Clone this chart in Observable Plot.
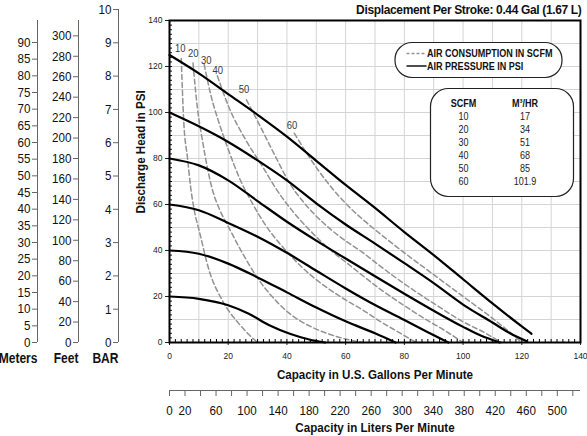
<!DOCTYPE html>
<html><head><meta charset="utf-8">
<script src="https://cdn.jsdelivr.net/npm/d3@7"></script>
<script src="https://cdn.jsdelivr.net/npm/@observablehq/plot@0.6"></script>
<style>
html,body{margin:0;padding:0;background:#fff;}
#chart{position:relative;width:587px;height:436px;overflow:hidden;background:#fff;}
#chart svg{position:absolute;left:0;top:0;max-width:none;}
</style></head><body><div id="chart"></div>
<script>
// ---------- data ----------
const chartTitle = "Displacement Per Stroke: 0.44 Gal (1.67 L)";
const xTitle = "Capacity in U.S. Gallons Per Minute";
const yTitle = "Discharge Head in PSI";
const litersTitle = "Capacity in Liters Per Minute";
const legendLabels = ["AIR CONSUMPTION IN SCFM", "AIR PRESSURE IN PSI"];

// air pressure curves (solid), [gpm, psi]
const pressureLevels = [125, 100, 80, 60, 40, 20];
const psi125 = [[0,125],[10,117],[20,108],[30,99],[40,89.5],[50,79],[60,68.5],[70,58.5],[80,48],[90,38],[100,27.5],[110,17],[120,7],[123.3,3.8]];
const psi100 = [[0,100],[10,94],[20,87.2],[30,79.2],[40,70.5],[50,60.5],[60,51.3],[70,43],[80,34.5],[90,25.8],[100,16.5],[110,8.7],[116,4],[121.7,0.5]];
const psi80  = [[0,80],[10,77],[20,70.5],[30,61.5],[40,52.5],[50,44.3],[60,36.5],[70,28.8],[80,21.2],[90,13.8],[100,6.8],[106,3],[112.5,0]];
const psi60  = [[0,60],[10,57.5],[20,52],[30,46],[40,39],[50,31.2],[60,23.5],[70,16.3],[80,9.8],[88,4.5],[95,0]];
const psi40  = [[0,40],[10,38.6],[20,34.3],[30,28.3],[40,21.8],[50,15.2],[60,9.2],[70,4],[77,0]];
const psi20  = [[0,20],[10,19],[20,16.2],[27,12.5],[34,7.5],[41,3.8],[47.6,1.3],[53,0]];

// air consumption curves (dashed), [gpm, psi]
const scfmLevels = [10, 20, 30, 40, 50, 60];
const scfm10 = [[4,123.5],[4.9,95],[6.1,80.6],[7.2,67.5],[8.5,57],[10.1,48.7],[13.5,31.3],[18,18.3],[23.7,8.1],[27,3.5],[30,0]];
const scfm20 = [[8,121.5],[9.5,102],[11.2,88],[12.9,76],[14.6,66.5],[17,58],[20,50.5],[25,38.5],[30,28],[36,18.5],[42,11.5],[48,7],[54,3.8],[60,1.5],[66,0]];
const scfm30 = [[11.8,121],[14,108],[17,95],[20,84],[24,71],[28,61],[33,50.5],[40,39.5],[47,30.5],[54,23.5],[60,18.5],[66,14],[72,9],[78,4.5],[84,0]];
const scfm40 = [[16.3,116],[20,103],[26,88],[31.7,76.5],[36.2,67],[42,57],[48,48.5],[55,40],[60,35],[65.4,29.5],[72,23],[80,16],[88,9.5],[94,5],[100,0]];
const scfm50 = [[26.2,105.5],[30.5,95],[36.2,80.6],[40.8,69.5],[46,60.5],[52,52.5],[58,46],[65.4,39.5],[72,33],[80,25.5],[90,17],[100,9],[107,4.5],[113,0]];
const scfm60 = [[42.5,91],[47.6,80.6],[53.3,70.4],[56.1,66],[60,60.5],[65.4,54],[72,47],[80,39],[90,29.5],[100,20],[108,12.5],[114,6.5],[120,0]];
const scfmLabelX = [3.7, 8.1, 12.5, 16.4, 25.4, 41.7];
const scfmLabelY = [128, 125.7, 122.8, 118.4, 110, 94.2];

// conversion table
const tableHeader = ["SCFM", "M³/HR"];
const tableScfm = ["10", "20", "30", "40", "50", "60"];
const tableM3hr = ["17", "34", "51", "68", "85", "101.9"];

// ticks
const gpmTicks = [0, 20, 40, 60, 80, 100, 120, 140];
const psiTicks = [0, 20, 40, 60, 80, 100, 120, 140];
const gridTicks = [10, 20, 30, 40, 50, 60, 70, 80, 90, 100, 110, 120, 130];
const minorTicks = d3.range(0, 141, 2);
const litersLabels = [0, 20, 60, 100, 140, 180, 220, 260, 300, 340, 380, 420, 460, 500];
const litersTicks = d3.range(0, 521, 20);
const meterTicks = d3.range(0, 91, 5);
const feetTicks = d3.range(0, 301, 20);
const barTicks = d3.range(0, 11, 1);
const meterMax = 96.6, feetMax = 315, barMax = 10, gpmMax = 140, psiMax = 140;
const litersPerGallon = 3.785;

// ---------- build rows ----------
const pressureSeries = [psi125, psi100, psi80, psi60, psi40, psi20];
const scfmSeries = [scfm10, scfm20, scfm30, scfm40, scfm50, scfm60];
const pressureRows = pressureSeries.flatMap((pts, i) => pts.map(([x, y]) => ({x, y, psi: pressureLevels[i]})));
const scfmRows = scfmSeries.flatMap((pts, i) => pts.map(([x, y]) => ({x, y, scfm: scfmLevels[i]})));

// ---------- layout ----------
const W = 587, H = 436, ML = 169, MR = 7, MT = 20, MB = 94;
const NARROW = "'Liberation Sans Narrow','Liberation Sans',Arial,sans-serif";
const REG = "'Liberation Sans',Arial,sans-serif";
const root = document.getElementById("chart");

const main = Plot.plot({
  width: W, height: H,
  marginLeft: ML, marginRight: MR, marginTop: MT, marginBottom: MB,
  style: {fontFamily: REG, fontSize: "8.5px", color: "#222", background: "transparent", overflow: "visible"},
  x: {domain: [0, gpmMax], axis: null},
  y: {domain: [0, psiMax], axis: null},
  marks: [
    Plot.gridX(gridTicks, {stroke: "#d4d4d4", strokeOpacity: 1}),
    Plot.gridY(gridTicks, {stroke: "#d4d4d4", strokeOpacity: 1}),
    Plot.line(scfmRows, {x: "x", y: "y", z: "scfm", stroke: "#929292", strokeWidth: 1.5, strokeDasharray: "5,3", curve: "monotone-x"}),
    Plot.line(pressureRows, {x: "x", y: "y", z: "psi", stroke: "#000", strokeWidth: 2.2, curve: "monotone-x"}),
    Plot.text(scfmLevels, {x: (d, i) => scfmLabelX[i], y: (d, i) => scfmLabelY[i], text: d => String(d), fontFamily: NARROW, fontSize: 11, fill: "#3a3a3a"}),
    Plot.ruleX(minorTicks, {x: d => d, y1: 0, y2: 1.3, stroke: "#000"}),
    Plot.ruleY(minorTicks, {y: d => d, x1: 0, x2: 1.0, stroke: "#000"}),
    Plot.axisX(gpmTicks, {anchor: "bottom", tickSize: 3, tickPadding: 7, label: null}),
    Plot.axisY(psiTicks, {anchor: "left", tickSize: 4, tickPadding: 3, label: null}),
    Plot.frame({stroke: "#000", strokeWidth: 2}),
    Plot.text([xTitle], {text: d => d, frameAnchor: "bottom", lineAnchor: "middle", dy: 32, fontFamily: NARROW, fontWeight: "bold", fontSize: 13.5, fill: "#111"}),
    Plot.text([yTitle], {text: d => d, frameAnchor: "left", dx: -29, dy: 32, rotate: -90, fontFamily: NARROW, fontWeight: "bold", fontSize: 13.5, fill: "#111"}),
    Plot.text([chartTitle], {text: d => d, frameAnchor: "top-right", lineAnchor: "middle", dx: 1, dy: -10.5, textAnchor: "end", fontFamily: REG, fontWeight: "bold", fontSize: 12, fill: "#111"})
  ]
});
root.appendChild(main);

// legend boxes drawn on top of the main chart
{
  const g = d3.select(main).append("g").attr("font-family", NARROW).attr("fill", "#111").attr("text-anchor", "start");
  g.append("rect").attr("x", 395).attr("y", 42.5).attr("width", 167).attr("height", 35).attr("rx", 17)
    .attr("fill", "#fff").attr("stroke", "#222").attr("stroke-width", 1.2);
  g.append("line").attr("x1", 406.5).attr("x2", 426.5).attr("y1", 53.5).attr("y2", 53.5)
    .attr("stroke", "#929292").attr("stroke-width", 1.5).attr("stroke-dasharray", "3,2");
  g.append("line").attr("x1", 406.5).attr("x2", 426.5).attr("y1", 66).attr("y2", 66)
    .attr("stroke", "#000").attr("stroke-width", 1.4);
  legendLabels.forEach((t, i) => {
    g.append("text").attr("x", 427).attr("y", 53.5 + i * 12.5).attr("dy", "0.35em").attr("text-anchor", "start")
      .attr("font-size", 10.5).attr("font-weight", "bold").text(t);
  });
  g.append("rect").attr("x", 430.5).attr("y", 88.5).attr("width", 143).attr("height", 108).attr("rx", 18)
    .attr("fill", "#fff").attr("stroke", "#222").attr("stroke-width", 1.2);
  const colX = [463.5, 525];
  tableHeader.forEach((t, j) => {
    g.append("text").attr("x", colX[j]).attr("y", 103.5).attr("dy", "0.35em").attr("text-anchor", "middle")
      .attr("font-size", 10.5).attr("font-weight", "bold").text(t);
  });
  tableScfm.forEach((t, i) => {
    [t, tableM3hr[i]].forEach((v, j) => {
      g.append("text").attr("x", colX[j]).attr("y", 116.8 + i * 13).attr("dy", "0.35em").attr("text-anchor", "middle")
        .attr("font-size", 10.5).attr("fill", "#222").text(v);
    });
  });
}

// secondary vertical scales on the left
function sideAxis(lineX, top, max, ticks, name) {
  return Plot.plot({
    width: lineX + 2, height: H,
    marginLeft: lineX, marginRight: 2, marginTop: top, marginBottom: MB,
    style: {fontFamily: NARROW, fontSize: "13.5px", color: "#111", background: "transparent", overflow: "visible"},
    x: {domain: [0, 1], axis: null},
    y: {domain: [0, max], axis: null},
    marks: [
      Plot.ruleX([0], {stroke: "#666"}),
      Plot.axisY(ticks, {anchor: "left", tickSize: 5, tickPadding: 2, stroke: "#666", label: null}),
      Plot.text([name], {text: d => d, x: 0, frameAnchor: "bottom", lineAnchor: "top", dy: 11, textAnchor: "end", fontWeight: "bold", fontSize: 14})
    ]
  });
}
const sides = [
  sideAxis(37, MT, meterMax, meterTicks, "Meters"),
  sideAxis(78, MT, feetMax, feetTicks, "Feet"),
  sideAxis(118, 9, barMax, barTicks, "BAR")
];
sides.forEach(s => root.appendChild(s));

// liters per minute scale below the chart
const liters = Plot.plot({
  width: W, height: H,
  marginLeft: ML, marginRight: MR, marginTop: 390, marginBottom: 40,
  style: {fontFamily: NARROW, fontSize: "13.5px", color: "#111", background: "transparent", overflow: "visible"},
  x: {domain: [0, gpmMax * litersPerGallon], axis: null},
  y: {domain: [0, 1], axis: null},
  marks: [
    Plot.tickX(litersTicks, {x: d => d, stroke: "#666"}),
    Plot.ruleY([1], {stroke: "#666"}),
    Plot.text(litersLabels, {x: d => d, text: d => String(d), frameAnchor: "bottom", lineAnchor: "middle", dy: 14}),
    Plot.text([litersTitle], {text: d => d, frameAnchor: "bottom", lineAnchor: "middle", dy: 31.5, fontWeight: "bold", fontSize: 13.5})
  ]
});
root.appendChild(liters);

// narrow (condensed) lettering like the original's Arial Narrow
function squeeze(el, factor) {
  const L = el.getComputedTextLength();
  if (L > 0) {
    el.setAttribute("textLength", (L * factor).toFixed(2));
    el.setAttribute("lengthAdjust", "spacingAndGlyphs");
  }
}
const narrowNodes = [];
main.querySelectorAll("[font-family]").forEach(g => {
  if ((g.getAttribute("font-family") || "").includes("Narrow")) g.querySelectorAll("text").forEach(t => narrowNodes.push(t));
});
[...sides, liters].forEach(s => s.querySelectorAll("text").forEach(t => narrowNodes.push(t)));
narrowNodes.forEach(t => squeeze(t, 0.86));
// the title: tighter letter spacing instead of glyph squeezing
main.querySelectorAll("text").forEach(t => {
  if (t.textContent === chartTitle) t.style.letterSpacing = "-0.35px";
});
</script></body></html>
